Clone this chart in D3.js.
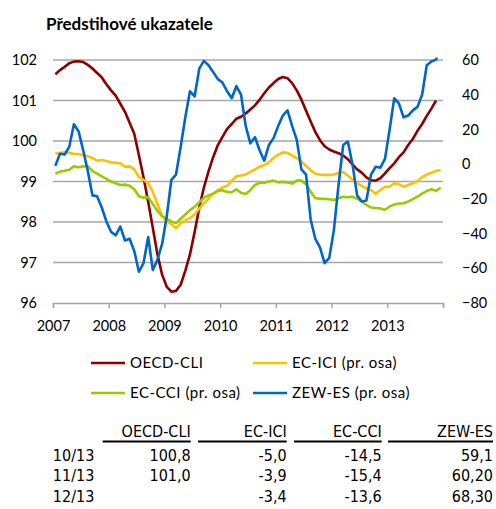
<!DOCTYPE html>
<html><head><meta charset="utf-8">
<script src="https://cdn.jsdelivr.net/npm/d3@7"></script>
<style>
body{margin:0;background:#fff;}
svg text{font-family:Lato,"Open Sans",sans-serif;fill:#000;}
.tbl{font-family:"DejaVu Sans",sans-serif;font-stretch:condensed;}
</style></head>
<body><svg id="c" width="496" height="509"></svg>
<script>
const years = ["2007","2008","2009","2010","2011","2012","2013"];
const leftTicks = [96,97,98,99,100,101,102];
const rightTicks = [-80,-60,-40,-20,0,20,40,60];
// monthly Jan 2007 - Dec 2013
const oecdCli = [101.65,101.75,101.83,101.92,101.96,101.97,101.95,101.88,101.79,101.68,101.57,101.40,
 101.25,101.12,100.92,100.72,100.45,100.18,99.65,99.1,98.5,97.85,97.2,96.7,
 96.4,96.28,96.3,96.45,96.8,97.2,97.75,98.35,98.85,99.25,99.6,99.9,
 100.1,100.3,100.42,100.55,100.6,100.68,100.78,100.88,101.02,101.18,101.32,101.43,
 101.53,101.58,101.55,101.43,101.25,101.02,100.75,100.48,100.22,100.02,99.87,99.79,
 99.74,99.7,99.64,99.55,99.42,99.3,99.22,99.1,99.03,99.02,99.08,99.2,
 99.33,99.45,99.6,99.72,99.9,100.05,100.25,100.42,100.62,100.8,101.0,null];
const ecIci = [6,6.5,6.8,6.5,6,5.8,5.2,4.5,3.5,2,2.4,1.8,
 1.1,0.8,0.5,-1.5,-1.3,-3,-7.5,-9,-11,-16,-23,-30,
 -33,-34.5,-37,-34,-32.5,-31,-29,-25.5,-22.5,-20,-17,-15,
 -13.5,-12.5,-9.5,-7,-6.5,-6,-4.5,-3,-1.5,-0.5,1,3.5,
 5.5,6.8,6.5,5,3.5,1.5,-1,-3.5,-5.5,-6,-6.2,-6.2,
 -6,-5,-4.5,-6.5,-9,-11,-12.5,-14,-15,-17,-15,-13,
 -13,-11,-11.5,-13,-12,-11,-9.7,-7.5,-6,-5.0,-3.9,-3.4];
const ecCci = [-5.5,-4.3,-3.8,-3.2,-1.3,-1.8,-1.3,-1.2,-4,-5.5,-7,-8.5,
 -10,-11,-12,-11.8,-12.5,-14.5,-18.5,-19.3,-19,-23,-27,-30,
 -31.5,-33,-34,-31.5,-29,-26.5,-24.5,-22,-19.5,-18,-17,-15.5,
 -15,-16,-16.2,-14.5,-16.5,-17.2,-15,-12,-10.7,-10.7,-10,-9.5,
 -10.5,-10.2,-10.5,-11.2,-9.5,-9.5,-11.5,-16,-19.5,-20,-20,-20.2,
 -20.7,-19.7,-18.8,-19.1,-18.7,-20,-21.5,-23.5,-25,-25.3,-25.5,-26.3,
 -24.5,-23.2,-22.7,-22.5,-21.5,-20.2,-18.7,-17,-15.5,-14.5,-15.4,-13.6];
const zewEs = [-1,6,5.5,10,23,19,8,-4,-18,-18.5,-25,-33,
 -39,-41,-36,-44,-43,-50,-62,-57,-42,-61,-55,-46,
 -30,-9,-6,10,27,42,39,55,59.5,57,53,49,
 47,42,38,45,40,22,12,15.5,8,2,11,15,
 22,28,31,22,14,-3,-6,-32,-43,-48,-57,-54,
 -38,-12,11,13,0,-18,-21.5,-21,-6,-1.5,-2,3,
 20,38,35,27,28,31,33,40,57,59.1,60.2,68.3];
const seriesNames = ["OECD-CLI","EC-ICI (pr. osa)","EC-CCI (pr. osa)","ZEW-ES (pr. osa)"];
const seriesColors = ["#8B0000","#FFC000","#99CC00","#0066CC"];
const tblHeader = ["OECD-CLI","EC-ICI","EC-CCI","ZEW-ES"];
const tblRows = ["10/13","11/13","12/13"];
const tblOecd = ["100,8","101,0",""];
const tblIci = ["-5,0","-3,9","-3,4"];
const tblCci = ["-14,5","-15,4","-13,6"];
const tblZew = ["59,1","60,20","68,30"];

const svg = d3.select("#c");
const L=53,R=443,T=60,B=303;
const x = d3.scaleLinear().domain([0,84]).range([L,R]);
const yL = d3.scaleLinear().domain([96,102]).range([B,T]);
const yR = d3.scaleLinear().domain([-80,60]).range([B,T]);

svg.append("text").attr("x",46).attr("y",30).attr("font-size",17).attr("font-weight","bold").text("Předstihové ukazatele");

// gridlines
svg.append("g").selectAll("line").data(leftTicks.filter(d=>d>96)).join("line")
 .attr("x1",L).attr("x2",R).attr("y1",d=>yL(d)).attr("y2",d=>yL(d))
 .attr("stroke","#a6a6a6").attr("stroke-width",1.5);

// x axis
const xa = svg.append("g").attr("transform",`translate(0,${B})`)
 .call(d3.axisBottom(x).tickValues(d3.range(0,85,12)).tickSize(5).tickFormat(d=>years[d/12]||""));
xa.select(".domain").attr("stroke","#a6a6a6").attr("stroke-width",1.5);
xa.selectAll(".tick line").attr("stroke","#a6a6a6").attr("stroke-width",1.5);
xa.selectAll(".tick text").attr("font-size",14.5).attr("dy","1.4em").attr("font-family","Lato");

// left axis
const la = svg.append("g").attr("transform",`translate(${L},0)`)
 .call(d3.axisLeft(yL).tickValues(leftTicks).tickSize(0).tickPadding(16).tickFormat(d3.format("d")));
la.select(".domain").remove();
la.selectAll("text").attr("font-size",14.5).attr("font-family","Lato");

// right axis
const ra = svg.append("g").attr("transform",`translate(${R},0)`)
 .call(d3.axisRight(yR).tickValues(rightTicks).tickSize(0).tickPadding(19).tickFormat(d3.format("d")));
ra.select(".domain").remove();
ra.selectAll("text").attr("font-size",14.5).attr("font-family","Lato");

svg.append("clipPath").attr("id","clip").append("rect").attr("x",L).attr("y",T-2.5).attr("width",R-L+3).attr("height",B-T+3);

const lineL = d3.line().defined(d=>d!=null).x((d,i)=>x(i+0.5)).y(d=>yL(d));
const lineR = d3.line().defined(d=>d!=null).x((d,i)=>x(i+0.5)).y(d=>yR(d));
const g = svg.append("g").attr("clip-path","url(#clip)");
const data = [[oecdCli,lineL],[ecIci,lineR],[ecCci,lineR],[zewEs,lineR]];
data.forEach(([arr,ln],k)=>{
  g.append("path").attr("d",ln(arr)).attr("fill","none").attr("stroke",seriesColors[k])
   .attr("stroke-width",2.6).attr("stroke-linejoin","round");
});

// legend
const legPos = [[91,363],[253,363],[91,393],[253,393]];
seriesNames.forEach((n,k)=>{
  const [lx,ly]=legPos[k];
  svg.append("line").attr("x1",lx).attr("x2",lx+34).attr("y1",ly).attr("y2",ly).attr("stroke",seriesColors[k]).attr("stroke-width",2.6);
  svg.append("text").attr("x",lx+39).attr("y",ly).attr("dy","0.35em").attr("font-size",15).attr("letter-spacing",0.5).text(n);
});

// table
const colEnds=[190.7,286.7,381.7,493];
const colStarts=[102.7,198,294,388];
const tg = svg.append("g").attr("class","tbl");
tblHeader.forEach((h,k)=>{
  tg.append("text").attr("class","tbl").attr("x",colEnds[k]).attr("y",436.5).attr("text-anchor","end").attr("font-size",16).text(h);
  tg.append("line").attr("x1",colStarts[k]).attr("x2",colEnds[k]).attr("y1",441.5).attr("y2",441.5).attr("stroke","#000").attr("stroke-width",2);
});
const cols=[tblOecd,tblIci,tblCci,tblZew];
const rowY=[460.5,480.5,501.5];
tblRows.forEach((r,i)=>{
  tg.append("text").attr("class","tbl").attr("x",94.3).attr("y",rowY[i]).attr("text-anchor","end").attr("font-size",16).text(r);
  cols.forEach((c,k)=>{
    tg.append("text").attr("class","tbl").attr("x",colEnds[k]).attr("y",rowY[i]).attr("text-anchor","end").attr("font-size",16).text(c[i]);
  });
});
</script></body></html>
